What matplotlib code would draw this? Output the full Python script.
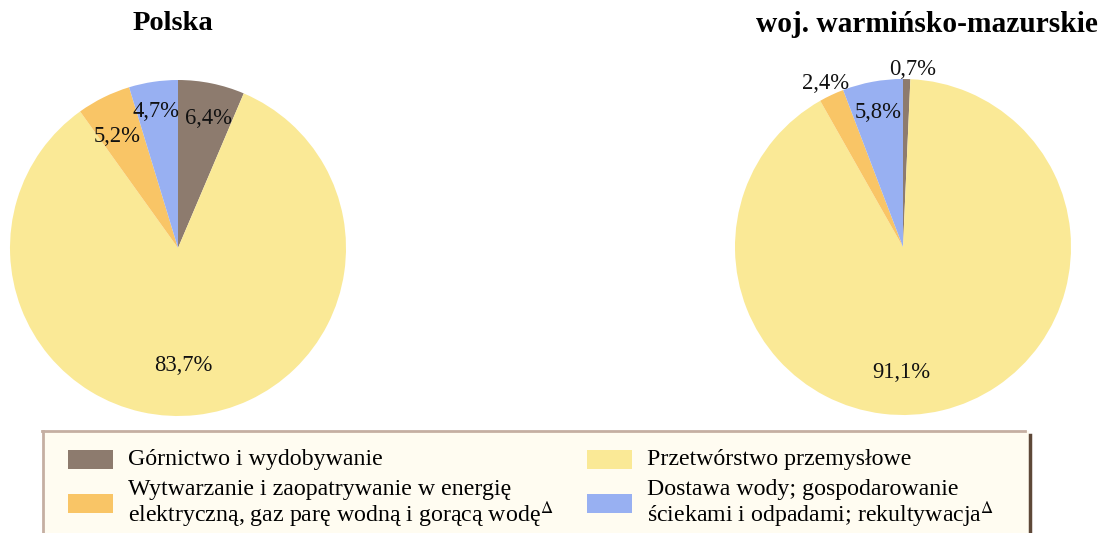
import matplotlib
matplotlib.use("Agg")
import matplotlib.pyplot as plt
import numpy as np
from matplotlib.patches import Rectangle
from matplotlib.lines import Line2D

plt.rcParams['font.family'] = ['Liberation Serif', 'DejaVu Serif']
plt.rcParams['mathtext.fontset'] = 'stix'

categories = ["Górnictwo i wydobywanie", "Przetwórstwo przemysłowe",
              "Wytwarzanie i zaopatrywanie w energię\nelektryczną, gaz parę wodną i gorącą wodę",
              "Dostawa wody; gospodarowanie\nściekami i odpadami; rekultywacja"]
colors = ["#8d7b6e", "#fae996", "#f9c566", "#98b0f2"]
titles = ["Polska", "woj. warmińsko-mazurskie"]
polska = [6.4, 83.7, 5.2, 4.7]
warm = [0.7, 91.1, 2.4, 5.8]
polska_labels = ["6,4%", "83,7%", "5,2%", "4,7%"]
warm_labels = ["0,7%", "91,1%", "2,4%", "5,8%"]

W, H = 1103, 533
fig = plt.figure(figsize=(W / 100, H / 100), dpi=100)
fig.patch.set_facecolor("white")

def px_ax(cx, cy, r):
    return fig.add_axes([(cx - r) / W, (H - cy - r) / H, 2 * r / W, 2 * r / H])

def draw_pie(ax, vals, labels, dists, angle_shift):
    wedges, _ = ax.pie(vals, colors=colors, startangle=90, counterclock=False,
                       radius=1.0, wedgeprops=dict(linewidth=0))
    for w, lab, d, s in zip(wedges, labels, dists, angle_shift):
        ang = np.deg2rad((w.theta1 + w.theta2) / 2 + s)
        ax.text(d * np.cos(ang), d * np.sin(ang), lab, ha="center", va="center",
                fontsize=16.3, color="#111111")
    ax.set_xlim(-1, 1)
    ax.set_ylim(-1, 1)
    ax.set_aspect("equal")
    ax.axis("off")

ax1 = px_ax(178, 248, 168)
draw_pie(ax1, polska, polska_labels, [0.79, 0.70, 0.755, 0.82], [-1.6, -3.6, 2.5, 0.7])
ax2 = px_ax(903, 247, 168)
draw_pie(ax2, warm, warm_labels, [1.06, 0.75, 1.078, 0.817], [-1.9, -14.4, 0, 0])

fig.text(172.5 / W, 1 - 24 / H, titles[0], ha="center", va="center", fontsize=20.5, fontweight="bold")
fig.text(927 / W, 1 - 24 / H, titles[1], ha="center", va="center", fontsize=21.2, fontweight="bold")

# legend box
fig.patches.append(Rectangle((43 / W, 0), (1029 - 43) / W, (H - 431) / H, transform=fig.transFigure,
                             facecolor="#fffcf1", edgecolor="none", zorder=0))
fig.lines.append(Line2D([42 / W, 1025 / W], [1 - 431 / H, 1 - 431 / H], transform=fig.transFigure,
                        color="#c5afa2", linewidth=2))
fig.lines.append(Line2D([43 / W, 43 / W], [1 - 431 / H, 0], transform=fig.transFigure,
                        color="#c5afa2", linewidth=2))
fig.lines.append(Line2D([1030 / W, 1030 / W], [1 - 435 / H, 0], transform=fig.transFigure,
                        color="#5e4838", linewidth=2.5))

# legend entries: (handle x, handle center y, text lines y)
entries = [(68, 459, [459]), (587, 459, [459]), (68, 503, [490, 515]), (587, 503, [490, 515])]
for (hx, hy, tys), cat, col, sup in zip(entries, categories, colors, [False, False, True, True]):
    fig.patches.append(Rectangle((hx / W, 1 - (hy + 9.5) / H), 45 / W, 19 / H,
                                 transform=fig.transFigure, facecolor=col, edgecolor="none"))
    lines = cat.split("\n")
    for i, (ln, ty) in enumerate(zip(lines, tys)):
        txt = ln + (r"$^{\Delta}$" if sup and i == len(lines) - 1 else "")
        fig.text((hx + 60) / W, 1 - ty / H, txt, ha="left", va="center", fontsize=17.2)

fig.savefig("out.png", dpi=100)
